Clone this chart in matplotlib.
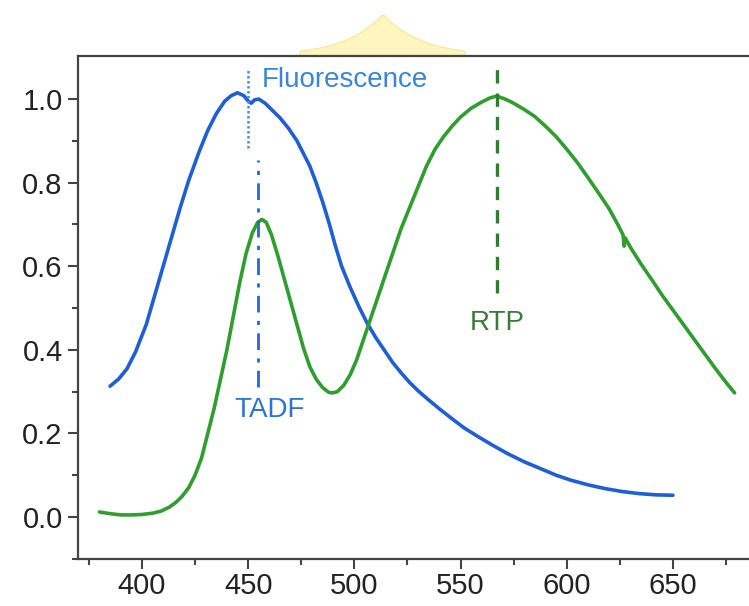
import numpy as np
import matplotlib.pyplot as plt
from matplotlib.patches import Polygon

plt.rcParams['font.family'] = ['Liberation Sans', 'DejaVu Sans']

# Fluorescence spectrum (blue)
wl_fl = [385, 389, 393, 397, 402, 406, 410, 414, 418, 422, 427, 431, 435, 439, 442,
         445, 448, 450, 451.5, 453, 455, 458, 461, 465, 469, 473, 476, 479, 482, 485,
         488, 491, 494, 498, 502, 506, 510, 514, 518, 522, 526, 530, 535, 540, 546,
         552, 559, 565, 572, 580, 588, 595, 602, 610, 618, 626, 634, 642, 650]
int_fl = [0.313, 0.33, 0.355, 0.395, 0.46, 0.53, 0.60, 0.67, 0.74, 0.805, 0.875, 0.925,
          0.965, 0.995, 1.008, 1.015, 1.008, 0.995, 0.99, 0.998, 1.0, 0.99, 0.975, 0.955,
          0.93, 0.90, 0.87, 0.84, 0.80, 0.755, 0.705, 0.65, 0.60, 0.55, 0.505, 0.464,
          0.43, 0.40, 0.37, 0.345, 0.322, 0.302, 0.28, 0.259, 0.235, 0.212, 0.19, 0.172,
          0.152, 0.132, 0.115, 0.10, 0.088, 0.077, 0.068, 0.061, 0.056, 0.053, 0.052]

# Delayed emission spectrum: TADF + RTP (green)
wl_de = [380, 385, 390, 395, 400, 405, 409, 413, 416, 419, 422, 425, 428, 431, 434,
         437, 440, 443, 446, 449, 452, 454.5, 456.5, 458.5, 461, 464, 467, 470, 473,
         476, 479, 482, 485, 488, 490, 492, 495, 498, 501, 504, 507, 510, 514, 518,
         522, 526, 530, 534, 538, 542, 546, 550, 555, 560, 564, 567, 571, 575, 580,
         585, 590, 595, 600, 605, 610, 615, 620, 624, 626.5, 627, 627.5, 630, 635,
         640, 645, 650, 655, 660, 665, 670, 675, 679]
int_de = [0.012, 0.008, 0.005, 0.005, 0.006, 0.009, 0.014, 0.024, 0.035, 0.05, 0.07,
          0.10, 0.14, 0.20, 0.26, 0.33, 0.40, 0.48, 0.56, 0.63, 0.68, 0.705, 0.712,
          0.705, 0.675, 0.625, 0.57, 0.515, 0.46, 0.405, 0.36, 0.33, 0.31, 0.298,
          0.297, 0.30, 0.315, 0.34, 0.375, 0.42, 0.465, 0.51, 0.57, 0.63, 0.69, 0.74,
          0.79, 0.84, 0.88, 0.91, 0.935, 0.957, 0.978, 0.993, 1.003, 1.007, 1.0, 0.99,
          0.975, 0.958, 0.935, 0.91, 0.88, 0.848, 0.812, 0.775, 0.737, 0.70, 0.675,
          0.648, 0.668, 0.645, 0.605, 0.568, 0.53, 0.495, 0.46, 0.425, 0.39, 0.355,
          0.322, 0.297]

# peak markers: position, y range
fl_peak, fl_span = 450, (0.883, 1.069)
tadf_peak, tadf_span = 454.7, (0.311, 0.854)
rtp_peak, rtp_span = 567, (0.536, 1.074)

blue = '#1f5fd3'
green = '#2f9e2f'

fig = plt.figure(figsize=(7.49, 6.06), dpi=100)
ax = fig.add_axes([78 / 749, 47 / 606, 1 - 78 / 749, 503 / 606])

ax.plot(wl_fl, int_fl, color=blue, lw=2.6, solid_capstyle='round', solid_joinstyle='round')
ax.plot(wl_de, int_de, color=green, lw=2.6, solid_capstyle='round', solid_joinstyle='round')

ax.plot([fl_peak, fl_peak], fl_span, color='#4a8fd8', lw=1.8, ls=(0, (1, 1)))
ax.plot([tadf_peak, tadf_peak], tadf_span, color='#2a68c8', lw=2.0, ls=(0, (6, 3, 1.5, 3)))
ax.plot([rtp_peak, rtp_peak], rtp_span, color='#2f7d2f', lw=2.4, ls=(0, (4, 3)))

ax.text(456.5, 1.045, 'Fluorescence', color='#3a86d4', fontsize=20, ha='left', va='center')
ax.text(460, 0.256, 'TADF', color='#2f74cc', fontsize=20, ha='center', va='center')
ax.text(567.5, 0.464, 'RTP', color='#3a7a3a', fontsize=20, ha='center', va='center')

ax.set_xlim(369.9, 685.8)
ax.set_ylim(-0.1005, 1.103)
ax.set_xticks([400, 450, 500, 550, 600, 650])
ax.set_xticks(np.arange(375, 700, 50), minor=True)
ax.set_yticks([0.0, 0.2, 0.4, 0.6, 0.8, 1.0])
ax.set_yticks(np.arange(-0.1, 1.05, 0.2), minor=True)
ax.set_yticklabels(['0.0', '0.2', '0.4', '0.6', '0.8', '1.0'])

ax.spines['right'].set_visible(False)
for s in ['left', 'top', 'bottom']:
    ax.spines[s].set_color('#444444')
    ax.spines[s].set_linewidth(1.6)
ax.tick_params(which='major', direction='out', length=7, width=1.5, color='#444444',
               labelsize=21, labelcolor='#222222', pad=4)
ax.tick_params(which='minor', direction='out', length=4, width=1.5, color='#444444')
ax.tick_params(axis='x', which='major', pad=2)

# pale yellow dome at the top of the picture
dome_x = np.linspace(300, 465, 60)
dome_y = 56 - 42 * np.exp(-np.abs(dome_x - 383) / 38)
pts = [(x / 749, 1 - y / 606) for x, y in zip(dome_x, dome_y)]
pts += [(465 / 749, 1 - 56 / 606), (300 / 749, 1 - 56 / 606)]
fig.patches.append(Polygon(pts, closed=True, transform=fig.transFigure,
                           facecolor='#fff5bf', edgecolor='#f7e79a', lw=0.8, zorder=-1))

fig.savefig('out.png', dpi=100)
